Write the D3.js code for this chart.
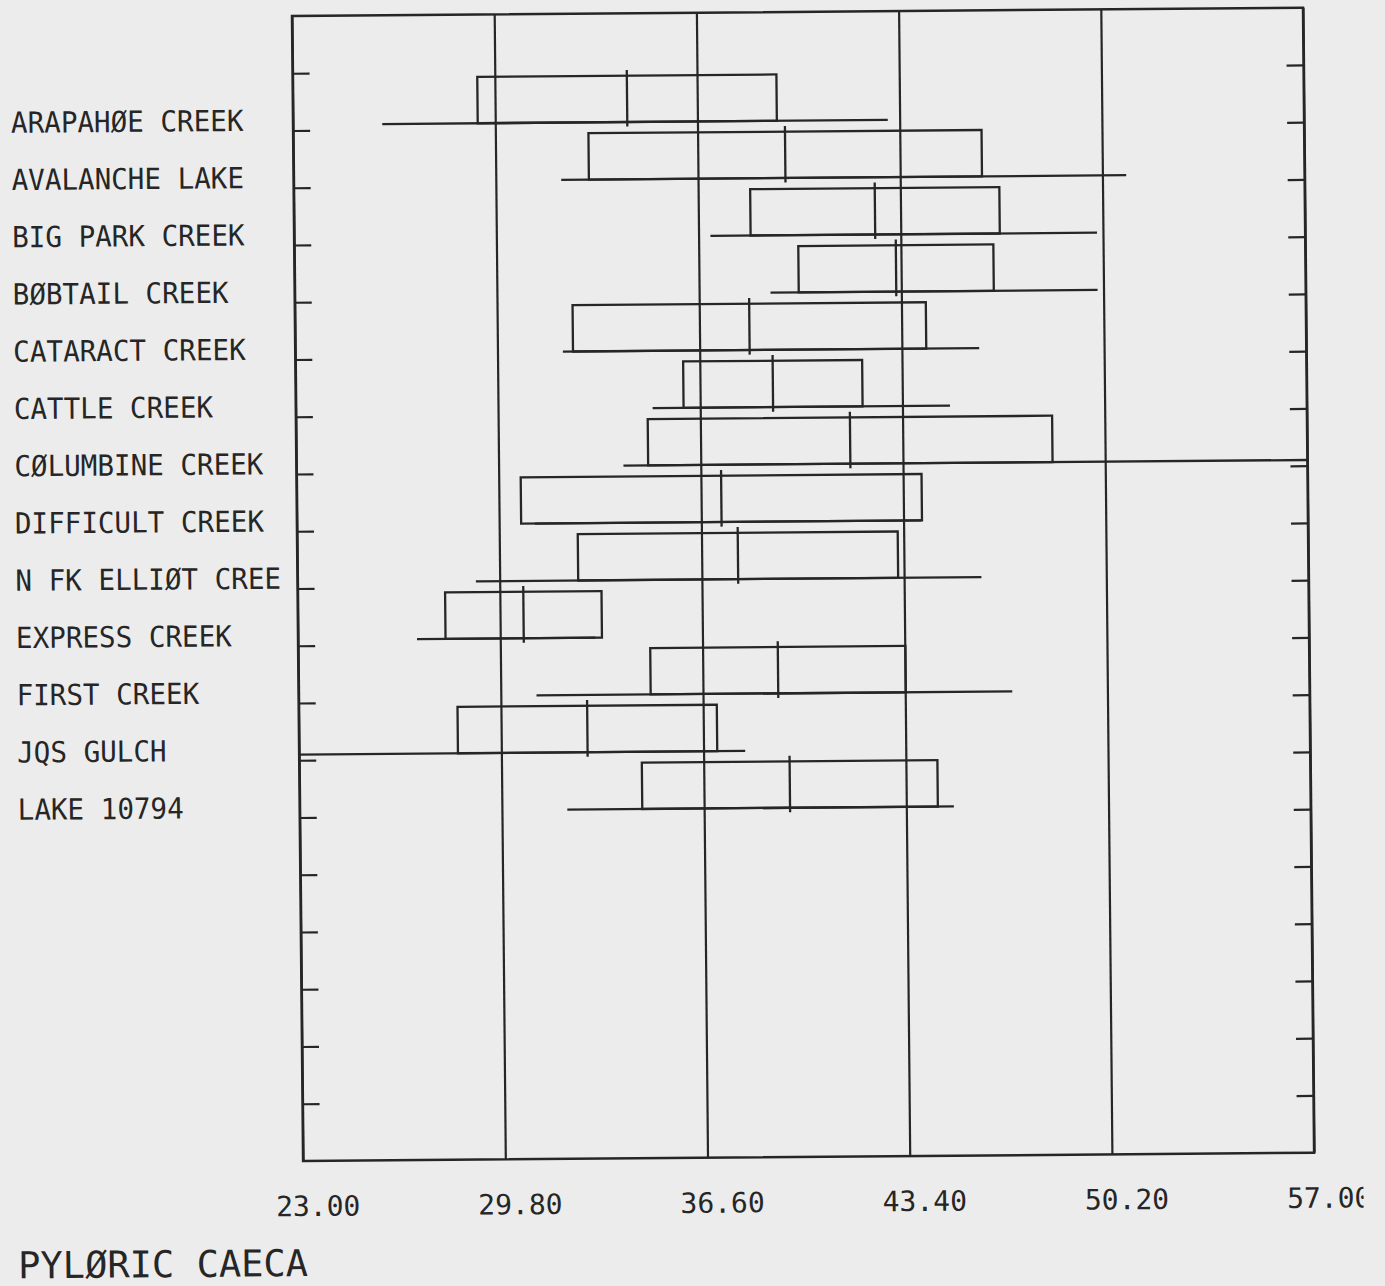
<!DOCTYPE html>
<html>
<head>
<meta charset="utf-8">
<script src="https://cdn.jsdelivr.net/npm/d3@7"></script>
<style>
  html, body { margin: 0; padding: 0; background: #ececec; }
  svg { display: block; }
</style>
</head>
<body>
<svg id="chart" width="1385" height="1286"></svg>
<script>
// Sampling sites, one row each
const sites = [
  "ARAPAHØE CREEK", "AVALANCHE LAKE", "BIG PARK CREEK", "BØBTAIL CREEK",
  "CATARACT CREEK", "CATTLE CREEK", "CØLUMBINE CREEK", "DIFFICULT CREEK",
  "N FK ELLIØT CREE", "EXPRESS CREEK", "FIRST CREEK", "JQS GULCH", "LAKE 10794"
];
// Mean count of pyloric caeca per site
const means = [34.24, 39.54, 42.54, 43.23, 38.28, 39.05, 41.63, 37.28, 37.82, 30.59, 39.13, 32.70, 39.49];
// Standard deviation (box spans mean ± sd)
const sds   = [5.03, 6.61, 4.19, 3.28, 5.94, 3.01, 6.80, 6.74, 5.38, 2.63, 4.29, 4.36, 4.97];
// Observed minimum and maximum counts
const mins  = [26, 32, 37, 39, 32, 35, 34, 31, 29, 27, 31, 23, 32];
const maxs  = [43, 51, 50, 50, 46, 45, 57, 44, 46, 33, 47, 38, 45];
// Axis ticks
const xTicks = [23.00, 29.80, 36.60, 43.40, 50.20, 57.00];
const ySlots = 20;
const axisTitle = "PYLØRIC CAECA";

const W = 1011, H = 1145;
const ink = "#262626";
const mono = "'DejaVu Sans Mono', monospace";

const svg = d3.select("#chart");
svg.append("rect").attr("width", 1385).attr("height", 1286).attr("fill", "#ececec");

// Plot sheet sits slightly askew on the page
const g = svg.append("g").attr("transform", "matrix(1,-0.0082,0.0097,1,292,16)");

const x = d3.scaleLinear().domain([xTicks[0], xTicks[xTicks.length - 1]]).range([0, W]).clamp(true);
const y = d3.scaleLinear().domain([0, ySlots]).range([0, H]);

// The sheet is trimmed just past the last value label
const defs = svg.append("defs");
defs.append("clipPath").attr("id", "sheet-edge")
  .append("rect").attr("x", -300).attr("y", -H - 50).attr("width", 1360).attr("height", H + 200);

// Vertical grid lines with value labels underneath
const gx = g.append("g")
  .attr("transform", `translate(0,${H})`)
  .attr("clip-path", "url(#sheet-edge)")
  .call(d3.axisBottom(x).tickValues(xTicks).tickFormat(d3.format(".2f")).tickSize(-H).tickPadding(0));
gx.attr("font-family", mono).attr("font-size", 28);
gx.select(".domain").remove();
gx.selectAll(".tick line").attr("stroke", ink).attr("stroke-width", 2.2);
gx.selectAll(".tick text")
  .attr("fill", ink)
  .attr("x", -28)
  .attr("y", 55)
  .attr("dy", null)
  .attr("text-anchor", "start");

// Short row ticks on both inner edges
const yl = g.append("g")
  .call(d3.axisRight(y).tickValues(d3.range(1, ySlots)).tickSize(17).tickFormat(""));
yl.select(".domain").remove();
yl.selectAll(".tick line").attr("stroke", ink).attr("stroke-width", 2.2);

const yr = g.append("g")
  .attr("transform", `translate(${W},0)`)
  .call(d3.axisLeft(y).tickValues(d3.range(1, ySlots)).tickSize(17).tickFormat(""));
yr.select(".domain").remove();
yr.selectAll(".tick line").attr("stroke", ink).attr("stroke-width", 2.2);

// Frame
g.append("rect")
  .attr("x", 0).attr("y", 0).attr("width", W).attr("height", H)
  .attr("fill", "none").attr("stroke", ink).attr("stroke-width", 2.5);

const rows = sites.map((s, i) => ({
  site: s, i, mean: means[i], sd: sds[i], min: mins[i], max: maxs[i]
}));

const row = g.append("g").selectAll("g").data(rows).join("g")
  .attr("fill", "none").attr("stroke", ink).attr("stroke-width", 2.3);

// mean ± sd box
row.append("rect")
  .attr("x", d => x(d.mean - d.sd))
  .attr("y", d => y(d.i + 1.09))
  .attr("width", d => x(d.mean + d.sd) - x(d.mean - d.sd))
  .attr("height", d => y(d.i + 1.9) - y(d.i + 1.09));

// min–max range along the box floor
row.append("line")
  .attr("x1", d => x(d.min)).attr("x2", d => x(d.max))
  .attr("y1", d => y(d.i + 1.9)).attr("y2", d => y(d.i + 1.9));

// mean marker
row.append("line")
  .attr("x1", d => x(d.mean)).attr("x2", d => x(d.mean))
  .attr("y1", d => y(d.i + 0.99)).attr("y2", d => y(d.i + 1.98));

// Site names
g.append("g").selectAll("text").data(rows).join("text")
  .attr("x", -282)
  .attr("y", d => y(d.i + 2))
  .attr("font-family", mono)
  .attr("font-size", 29)
  .attr("fill", ink)
  .attr("textLength", d => d.site.length * 16.6)
  .attr("lengthAdjust", "spacingAndGlyphs")
  .text(d => d.site);

// Variable name
g.append("text")
  .attr("x", -286)
  .attr("y", 1260)
  .attr("font-family", mono)
  .attr("font-size", 37)
  .attr("fill", ink)
  .attr("textLength", axisTitle.length * 22.3)
  .attr("lengthAdjust", "spacingAndGlyphs")
  .text(axisTitle);
</script>
</body>
</html>
